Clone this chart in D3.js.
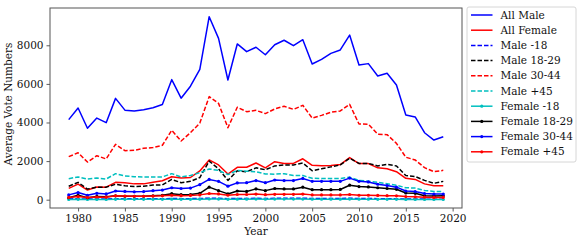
<!DOCTYPE html>
<html>
<head>
<meta charset="utf-8">
<script src="https://cdn.jsdelivr.net/npm/d3@7"></script>
<style>
  body { margin: 0; background: #fff; }
  svg { display: block; font-family: 'DejaVu Serif', serif; }
</style>
</head>
<body>
<svg id="chart" width="582" height="242"></svg>
<script>
const years = d3.range(1979, 2020);

const allMale = [4150, 4750, 3700, 4230, 3990, 5250, 4640, 4590, 4660, 4760, 4930, 6220, 5260, 5880, 6750, 9480, 8360, 6200,
  8070, 7670, 7900, 7510, 8030, 8260, 7980, 8290, 7030, 7270, 7580, 7760, 8530, 6980, 7050, 6410, 6550, 5940, 4390, 4290, 3470, 3090, 3260];
const allFemale = [590, 810, 500, 660, 650, 900, 880, 820, 820, 900, 980, 1190, 1130, 1150, 1490, 2060, 1800, 1330,
  1680, 1680, 1900, 1650, 1970, 1880, 1880, 2120, 1780, 1760, 1770, 1820, 2180, 1870, 1870, 1650, 1600, 1450, 1110, 1050, 820, 720, 720];
const male18 = [40, 50, 30, 40, 40, 50, 50, 45, 45, 50, 50, 60, 55, 55, 60, 80, 70, 55,
  65, 65, 70, 65, 70, 70, 70, 75, 65, 65, 65, 65, 75, 60, 60, 55, 50, 45, 35, 35, 30, 25, 25];
const male1829 = [700, 900, 550, 650, 650, 800, 720, 680, 700, 760, 770, 1050, 880, 950, 1150, 2000, 1600, 1000,
  1500, 1450, 1650, 1550, 1750, 1800, 1800, 1900, 1500, 1600, 1700, 1800, 2150, 1880, 1880, 1750, 1830, 1750, 1250, 1200, 1000, 850, 950];
const male3044 = [2230, 2430, 1950, 2280, 2110, 2870, 2540, 2560, 2660, 2700, 2820, 3600, 3040, 3470, 3970, 5340, 4990, 3730,
  4790, 4560, 4630, 4460, 4700, 4840, 4680, 4890, 4230, 4370, 4530, 4600, 4940, 3920, 3910, 3390, 3370, 2920, 2200, 2060, 1660, 1450, 1520];
const male45 = [1090, 1180, 1070, 1120, 1070, 1350, 1230, 1190, 1180, 1180, 1180, 1350, 1180, 1250, 1400, 1590, 1520, 1300,
  1520, 1480, 1450, 1330, 1320, 1350, 1250, 1250, 1110, 1100, 1100, 1100, 1160, 1000, 960, 900, 830, 750, 620, 600, 480, 430, 420];
const female18 = [15, 20, 12, 15, 15, 20, 20, 18, 18, 20, 20, 25, 22, 22, 25, 35, 30, 22,
  28, 28, 30, 28, 30, 30, 30, 32, 28, 28, 28, 28, 32, 25, 25, 22, 20, 18, 15, 15, 12, 10, 10];
const female1829 = [100, 230, 100, 170, 150, 200, 180, 180, 180, 200, 230, 310, 260, 270, 330, 650, 470, 300,
  450, 430, 560, 470, 580, 560, 560, 650, 520, 520, 520, 530, 750, 680, 660, 620, 580, 540, 350, 330, 200, 190, 200];
const female3044 = [250, 370, 230, 330, 300, 450, 430, 410, 420, 470, 500, 620, 580, 600, 780, 1050, 950, 700,
  870, 880, 990, 880, 1020, 990, 990, 1100, 950, 950, 950, 950, 1120, 950, 920, 800, 730, 650, 450, 420, 320, 290, 290];
const female45 = [120, 160, 110, 140, 130, 200, 190, 180, 180, 190, 200, 230, 210, 220, 250, 320, 300, 230,
  270, 270, 290, 260, 280, 280, 280, 290, 250, 250, 250, 250, 270, 230, 230, 220, 210, 200, 160, 150, 130, 120, 120];

const seriesNames = ['All Male', 'All Female', 'Male -18', 'Male 18-29', 'Male 30-44', 'Male +45',
  'Female -18', 'Female 18-29', 'Female 30-44', 'Female +45'];
const seriesValues = [allMale, allFemale, male18, male1829, male3044, male45,
  female18, female1829, female3044, female45];
const seriesColors = ['#0000ff', '#ff0000', '#0000ff', '#000000', '#ff0000', '#00bfbf',
  '#00bfbf', '#000000', '#0000ff', '#ff0000'];
const seriesStyles = ['solid', 'solid', 'dash', 'dash', 'dash', 'dash', 'dot', 'dot', 'dot', 'dot'];
const yTicks = [0, 2000, 4000, 6000, 8000];
const xTicks = [1980, 1985, 1990, 1995, 2000, 2005, 2010, 2015, 2020];

const margin = { top: 8, right: 120, bottom: 34, left: 50 };
const width = 582 - margin.left - margin.right;
const height = 242 - margin.top - margin.bottom;

const svg = d3.select('#chart');
const g = svg.append('g')
    .attr('transform', `translate(${margin.left},${margin.top})`);

const x = d3.scaleLinear().domain([1977, 2021]).range([0, width]);
const y = d3.scaleLinear().domain([-430, 9932]).range([height, 0]);

// axes
const xAxis = g.append('g')
    .attr('transform', `translate(0,${height})`)
    .call(d3.axisBottom(x).tickValues(xTicks).tickFormat(d3.format('d')).tickSize(3.5).tickPadding(3));
const yAxis = g.append('g')
    .call(d3.axisLeft(y).tickValues(yTicks).tickFormat(d3.format('d')).tickSize(3.5).tickPadding(3));
[xAxis, yAxis].forEach(a => {
    a.select('.domain').remove();
    a.selectAll('line').attr('stroke', '#333').attr('stroke-width', 0.8);
    a.selectAll('text').attr('fill', '#111').style('font-size', '10.5px').style('font-family', "'DejaVu Serif', serif");
});

// lines
const line = d3.line()
    .x((d, i) => x(years[i]))
    .y(d => y(d));

seriesValues.forEach((vals, k) => {
    g.append('path')
        .datum(vals)
        .attr('fill', 'none')
        .attr('stroke', seriesColors[k])
        .attr('stroke-width', 1.5)
        .attr('stroke-linejoin', 'round')
        .attr('stroke-dasharray', seriesStyles[k] === 'dash' ? '4.5,2' : null)
        .attr('d', line);
    if (seriesStyles[k] === 'dot') {
        g.append('g').selectAll('circle')
            .data(vals)
            .enter()
            .append('circle')
                .attr('cx', (d, i) => x(years[i]))
                .attr('cy', d => y(d))
                .attr('r', 1.6)
                .attr('fill', seriesColors[k]);
    }
});

// frame
g.append('rect')
    .attr('width', width)
    .attr('height', height)
    .attr('fill', 'none')
    .attr('stroke', '#555')
    .attr('stroke-width', 1);

// axis labels
g.append('text')
    .attr('x', width / 2)
    .attr('y', height + 27)
    .attr('text-anchor', 'middle')
    .style('font-size', '10.5px')
    .attr('fill', '#111')
    .text('Year');
g.append('text')
    .attr('transform', `translate(${-38},${height / 2 - 4}) rotate(-90)`)
    .attr('text-anchor', 'middle')
    .style('font-size', '10.5px')
    .attr('fill', '#111')
    .text('Average Vote Numbers');

// legend
const legend = svg.append('g').attr('transform', 'translate(467,7)');
legend.append('rect')
    .attr('width', 109)
    .attr('height', 155)
    .attr('rx', 2)
    .attr('fill', '#fff')
    .attr('stroke', '#ccc')
    .attr('stroke-width', 0.8);
seriesNames.forEach((name, k) => {
    const row = legend.append('g').attr('transform', `translate(0,${8 + k * 15.2})`);
    row.append('line')
        .attr('x1', 4).attr('x2', 25.5)
        .attr('stroke', seriesColors[k])
        .attr('stroke-width', 1.5)
        .attr('stroke-dasharray', seriesStyles[k] === 'dash' ? '4.5,2' : null);
    if (seriesStyles[k] === 'dot') {
        row.append('circle').attr('cx', 14.75).attr('r', 1.6).attr('fill', seriesColors[k]);
    }
    row.append('text')
        .attr('x', 33.5)
        .attr('dy', '0.35em')
        .style('font-size', '10.5px')
        .attr('fill', '#111')
        .text(name);
});
</script>
</body>
</html>
